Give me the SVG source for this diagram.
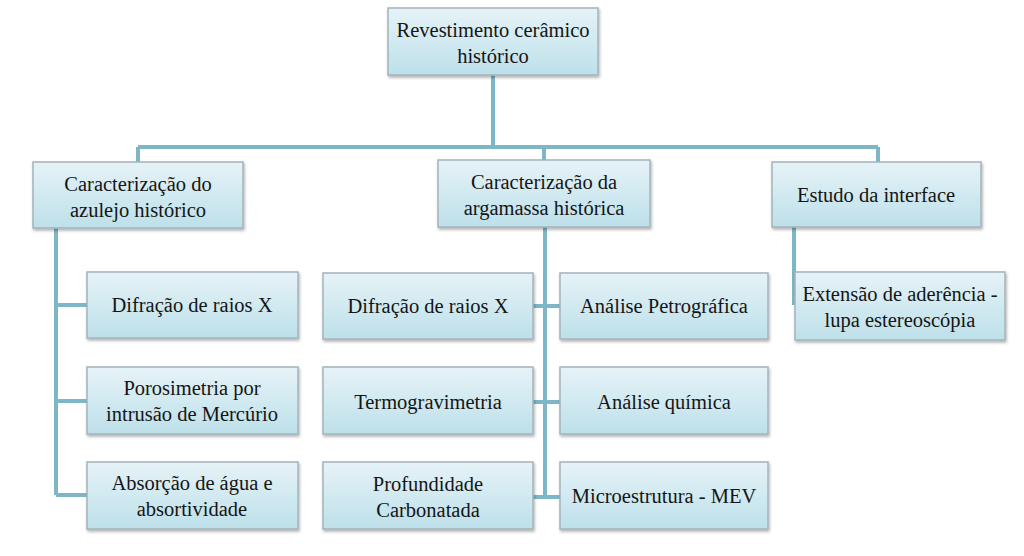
<svg xmlns="http://www.w3.org/2000/svg" width="1024" height="556" viewBox="0 0 1024 556">
<defs>
<linearGradient id="g" x1="0" y1="0" x2="0" y2="1">
<stop offset="0" stop-color="#e6f3f7"/>
<stop offset="1" stop-color="#bde0ea"/>
</linearGradient>
<filter id="sh" x="-5%" y="-5%" width="115%" height="130%">
<feDropShadow dx="1" dy="2" stdDeviation="1.5" flood-color="#000" flood-opacity="0.3"/>
</filter>
</defs>
<style>
.box{fill:url(#g);stroke:#a3b4ba;stroke-width:1.5;filter:url(#sh)}
.t{font-family:'Liberation Serif','Times New Roman',serif;font-size:20.5px;fill:#151515;text-anchor:middle}
.c{stroke:#7db7c6;stroke-width:4;fill:none}
</style>
<rect width="1024" height="556" fill="#ffffff"/>
<g id="connectors">
<path class="c" d="M493 75V147M138 147H878M138 147V162M544 147V160M878 147V162"/>
<path class="c" d="M56 228V495M56 305H88M56 401H88M56 495H88"/>
<path class="c" d="M545 227V497M533 306H560M533 402H560M533 497H560"/>
<path class="c" d="M794 227V305"/>
</g>
<g id="n0"><rect class="box" x="388" y="8" width="210" height="67"/><text class="t" x="493" y="37">Revestimento cerâmico</text><text class="t" x="493" y="63">histórico</text></g>
<g id="n1"><rect class="box" x="33" y="162" width="210" height="66"/><text class="t" x="138" y="191">Caracterização do</text><text class="t" x="138" y="217">azulejo histórico</text></g>
<g id="n2"><rect class="box" x="438" y="160" width="212" height="67"/><text class="t" x="544" y="189">Caracterização da</text><text class="t" x="544" y="215">argamassa histórica</text></g>
<g id="n3"><rect class="box" x="772" y="162" width="209" height="65"/><text class="t" x="876" y="202">Estudo da interface</text></g>
<g id="n4"><rect class="box" x="87" y="272" width="211" height="66"/><text class="t" x="192" y="312">Difração de raios X</text></g>
<g id="n5"><rect class="box" x="87" y="367" width="211" height="67"/><text class="t" x="192" y="395">Porosimetria por</text><text class="t" x="192" y="421">intrusão de Mercúrio</text></g>
<g id="n6"><rect class="box" x="87" y="462" width="211" height="67"/><text class="t" x="192" y="490">Absorção de água e</text><text class="t" x="192" y="516">absortividade</text></g>
<g id="n7"><rect class="box" x="323" y="273" width="210" height="66"/><text class="t" x="428" y="313">Difração de raios X</text></g>
<g id="n8"><rect class="box" x="323" y="367" width="210" height="67"/><text class="t" x="428" y="409">Termogravimetria</text></g>
<g id="n9"><rect class="box" x="323" y="462" width="210" height="67"/><text class="t" x="428" y="491">Profundidade</text><text class="t" x="428" y="517">Carbonatada</text></g>
<g id="n10"><rect class="box" x="560" y="273" width="208" height="66"/><text class="t" x="664" y="313">Análise Petrográfica</text></g>
<g id="n11"><rect class="box" x="560" y="367" width="208" height="67"/><text class="t" x="664" y="409">Análise química</text></g>
<g id="n12"><rect class="box" x="560" y="462" width="208" height="67"/><text class="t" x="664" y="503">Microestrutura - MEV</text></g>
<g id="n13"><rect class="box" x="795" y="272" width="210" height="68"/><text class="t" x="900" y="301">Extensão de aderência -</text><text class="t" x="900" y="327">lupa estereoscópia</text></g>
</svg>
